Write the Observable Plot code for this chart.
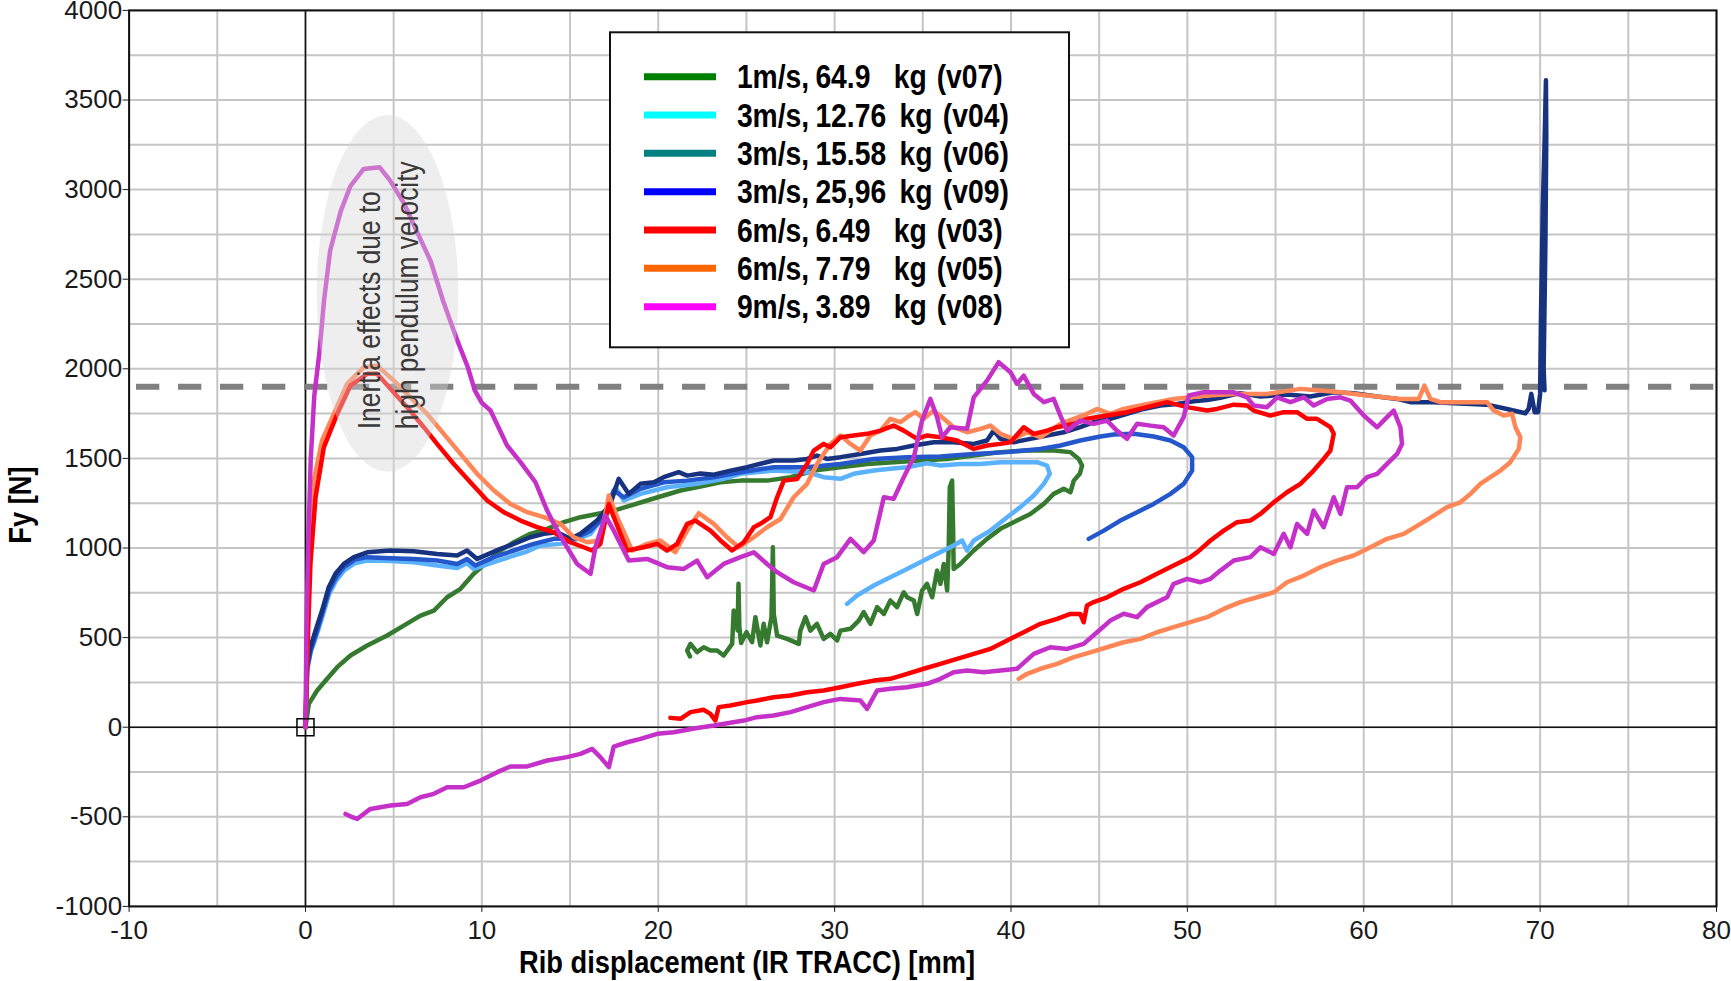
<!DOCTYPE html>
<html>
<head>
<meta charset="utf-8">
<script src="https://cdn.jsdelivr.net/npm/d3@7"></script>
<script src="https://cdn.jsdelivr.net/npm/@observablehq/plot@0.6"></script>
<style>
  html, body { margin: 0; padding: 0; background: #fff; }
  #chart { width: 1731px; height: 981px; overflow: hidden; }
</style>
</head>
<body>
<div id="chart"></div>
<script>
// Axis ticks and grid spacing
const xTicks = [-10, 0, 10, 20, 30, 40, 50, 60, 70, 80];
const yTicks = [-1000, -500, 0, 500, 1000, 1500, 2000, 2500, 3000, 3500, 4000];
const xGrid = [-10, -5, 0, 5, 10, 15, 20, 25, 30, 35, 40, 45, 50, 55, 60, 65, 70, 75, 80];
const yGrid = [-1000, -750, -500, -250, 0, 250, 500, 750, 1000, 1250, 1500, 1750, 2000, 2250, 2500, 2750, 3000, 3250, 3500, 3750, 4000];

// Force limit line [N]
const forceLimit = 1900;

// Rib displacement [mm] vs Fy [N] for each pendulum test
const v07 = [[0,0],[0.19,130],[0.66,205],[1.23,270],[1.8,335],[2.55,400],[3.5,456],[4.63,512],[5.57,567],[6.52,623],[7.28,651],[8.03,725],[8.79,772],[9.54,856],[10.3,921],[11.05,986],[11.81,1032],[12.75,1079],[13.7,1107],[14.65,1144],[15.59,1172],[16.53,1190],[17.48,1209],[18.42,1237],[19.37,1265],[20.31,1293],[21.26,1321],[22.39,1343],[23.53,1367],[24.66,1376],[26.17,1376],[27.5,1395],[28.82,1432],[30.33,1451],[31.84,1469],[33.35,1479],[34.86,1488],[36.38,1497],[37.89,1516],[39.4,1535],[40.91,1544],[42.42,1544],[43.37,1535],[43.84,1497],[44.03,1460],[43.9,1414],[43.56,1376],[43.37,1311],[42.99,1330],[42.42,1302],[41.86,1246],[41.1,1190],[40.15,1144],[39.4,1107],[38.64,1051],[37.89,986],[37.13,911],[36.75,883],[36.72,1097],[36.66,1376],[36.53,1339],[36.47,1004],[36.38,763],[36.19,911],[36.0,800],[35.81,874],[35.53,725],[35.24,800],[34.96,763],[34.68,632],[34.49,707],[34.11,725],[33.92,753],[33.54,670],[33.16,707],[32.79,632],[32.41,670],[32.03,577],[31.65,642],[31.37,595],[30.9,549],[30.33,539],[30.14,484],[29.76,521],[29.38,493],[29.0,577],[28.63,539],[28.35,614],[28.06,539],[27.97,465],[27.31,493],[26.74,511],[26.55,632],[26.5,1004],[26.42,614],[26.17,474],[25.98,577],[25.79,456],[25.51,614],[25.32,474],[25.0,530],[24.7,470],[24.6,560],[24.55,800],[24.5,540],[24.43,600],[24.28,651],[24.19,465],[23.71,400],[23.34,428],[22.96,428],[22.58,446],[22.2,419],[21.83,465],[21.64,428],[21.8,395]];

const v04 = [[0,0],[0.1,320],[0.3,420],[0.6,505],[0.95,615],[1.35,745],[1.75,820],[2.2,875],[2.8,915],[3.5,930],[4.8,928],[6.14,921],[7.46,902],[8.6,889],[9.16,915],[9.54,883],[10.68,921],[11.81,958],[12.47,977],[13.32,1014],[14.46,1023],[15.21,1042],[16.16,1079],[16.91,1181],[17.57,1339],[18.05,1265],[19.0,1302],[20.5,1339],[22.2,1358],[23.71,1386],[24.66,1414],[26.55,1432],[28.44,1423],[29.38,1395],[30.33,1386],[31.08,1414],[32.22,1432],[33.16,1442],[34.11,1451],[35.24,1473],[36.0,1460],[37.13,1469],[38.27,1469],[39.4,1479],[40.53,1479],[41.48,1479],[42.04,1460],[42.2,1414],[41.86,1358],[41.29,1293],[40.53,1228],[39.78,1172],[38.83,1097],[37.89,1042],[37.51,986],[37.23,1042],[36.75,1014],[36.0,977],[35.05,930],[34.11,883],[33.16,837],[32.22,791],[31.27,735],[30.71,688]];

const v06 = [[0,0],[0.1,330],[0.3,430],[0.6,520],[0.95,635],[1.35,765],[1.75,840],[2.2,895],[2.8,935],[3.5,949],[4.82,943],[6.14,938],[7.46,930],[8.6,911],[9.16,939],[9.63,902],[10.68,949],[11.81,986],[12.94,1023],[14.08,1051],[15.21,1051],[16.16,1097],[16.91,1172],[17.48,1321],[18.05,1283],[19.0,1330],[20.31,1367],[21.64,1376],[23.15,1395],[24.66,1423],[26.55,1451],[28.44,1451],[30.33,1469],[32.22,1497],[34.11,1507],[36.0,1511],[37.89,1525],[39.78,1535],[41.67,1553],[42.8,1572],[43.93,1600],[45.07,1622],[45.82,1633],[46.96,1637],[48.09,1622],[49.04,1600],[49.79,1562],[50.27,1507],[50.27,1432],[49.79,1358],[49.04,1302],[48.09,1246],[47.15,1200],[46.2,1153],[45.26,1097],[44.41,1051]];

const v09 = [[0,0],[0.09,353],[0.28,446],[0.57,539],[0.94,651],[1.32,781],[1.7,856],[2.17,911],[2.74,949],[3.5,976],[4.82,986],[6.14,982],[7.46,967],[8.6,958],[9.16,986],[9.73,939],[10.3,963],[11.05,995],[11.81,1023],[12.75,1060],[13.51,1079],[14.27,1088],[15.02,1051],[15.59,1079],[16.53,1153],[17.29,1246],[17.76,1386],[18.33,1302],[18.99,1358],[19.75,1367],[20.31,1395],[21.16,1423],[21.64,1404],[22.39,1416],[23.15,1409],[24.09,1432],[25.04,1451],[25.79,1470],[26.55,1488],[27.68,1488],[28.44,1497],[29.0,1516],[29.57,1497],[30.33,1507],[31.46,1525],[32.6,1544],[33.54,1553],[34.49,1572],[35.62,1590],[36.75,1590],[37.89,1581],[38.64,1600],[39.02,1655],[39.4,1609],[40.15,1590],[41.1,1609],[42.04,1628],[42.99,1646],[43.93,1674],[44.69,1702],[45.63,1721],[46.58,1749],[47.52,1776],[48.47,1795],[49.41,1804],[50.36,1819],[51.12,1826],[51.87,1838],[53.0,1864],[54.14,1845],[55.65,1856],[56.98,1845],[58.3,1869],[59.43,1864],[60.76,1845],[61.89,1832],[62.64,1814],[63.97,1814],[65.1,1808],[66.99,1800],[68.12,1776],[69.16,1752],[69.35,1776],[69.5,1860],[69.69,1758],[69.88,1758],[70.0,1860],[70.05,2300],[70.15,2900],[70.25,3250],[70.33,3610],[70.35,3300],[70.3,2700],[70.2,2000],[70.25,1880]];

const v03 = [[0,0],[0.1,400],[0.28,911],[0.57,1283],[1.04,1562],[1.8,1748],[2.55,1906],[3.5,1972],[4.06,1972],[4.82,1888],[5.76,1786],[6.71,1674],[7.46,1581],[8.41,1469],[9.35,1367],[10.3,1265],[11.24,1200],[12.19,1153],[13.13,1116],[14.08,1088],[15.02,1032],[16.25,986],[16.72,1023],[17.2,1246],[17.48,1172],[18.24,986],[19.18,1004],[19.94,1023],[20.5,986],[21.07,1023],[21.64,1135],[22.11,1153],[22.96,1097],[23.53,1042],[24.19,986],[24.85,1032],[25.42,1116],[25.79,1135],[26.36,1172],[26.74,1283],[27.12,1376],[27.87,1385],[28.44,1469],[28.82,1544],[29.38,1581],[29.76,1562],[30.33,1618],[31.08,1628],[31.84,1637],[32.6,1655],[33.35,1683],[33.92,1655],[34.68,1609],[35.24,1628],[36.0,1618],[36.94,1600],[37.89,1553],[38.64,1572],[39.4,1581],[39.97,1590],[40.72,1674],[41.29,1637],[42.04,1655],[42.61,1674],[43.56,1693],[44.31,1721],[45.45,1739],[46.58,1758],[47.71,1786],[48.85,1814],[49.98,1786],[51.12,1767],[51.68,1776],[52.63,1800],[53.39,1795],[53.76,1767],[54.71,1739],[55.46,1758],[56.22,1758],[56.79,1721],[57.35,1721],[58.11,1674],[58.3,1637],[58.11,1544],[57.73,1497],[57.16,1432],[56.41,1358],[55.65,1311],[54.9,1255],[54.14,1190],[53.57,1153],[52.82,1144],[52.06,1097],[51.31,1042],[50.6,980],[50.17,949],[49.22,902],[48.28,856],[47.34,809],[46.39,772],[45.45,725],[44.69,698],[44.31,679],[44.12,586],[43.93,632],[43.37,632],[42.61,605],[41.67,577],[40.72,530],[39.78,484],[38.83,437],[37.89,409],[36.94,381],[36.0,353],[35.05,326],[34.11,298],[33.16,270],[32.22,260],[31.27,242],[30.33,223],[29.38,205],[28.44,195],[27.5,177],[26.55,167],[25.6,149],[25.04,140],[24.09,121],[23.43,112],[23.24,37],[22.96,74],[22.58,97],[21.83,84],[21.26,47],[20.69,52]];

const v05 = [[0,0],[0.1,450],[0.19,911],[0.47,1376],[0.94,1600],[1.61,1748],[2.36,1916],[3.31,2009],[4.06,2018],[5.01,1934],[5.95,1841],[6.9,1748],[7.84,1637],[8.79,1525],[9.73,1414],[10.68,1321],[11.62,1246],[12.57,1200],[13.51,1172],[14.46,1135],[15.21,1060],[15.97,1032],[16.72,1042],[17.2,1293],[17.67,1172],[18.52,986],[19.37,1023],[20.12,1042],[20.97,977],[21.64,1097],[22.3,1194],[23.15,1135],[23.9,1060],[24.57,1004],[25.42,1060],[26.17,1116],[26.93,1162],[27.68,1283],[28.44,1358],[29.0,1469],[29.76,1581],[30.33,1628],[30.9,1581],[31.46,1544],[32.03,1628],[32.6,1655],[33.16,1721],[33.73,1702],[34.11,1730],[34.58,1758],[35.05,1721],[35.62,1767],[36.19,1721],[36.75,1674],[37.51,1646],[38.27,1665],[38.83,1683],[39.4,1637],[40.15,1609],[40.91,1646],[41.67,1618],[42.23,1655],[42.8,1693],[43.56,1721],[44.31,1749],[44.88,1776],[45.63,1749],[46.39,1776],[47.34,1795],[48.28,1814],[49.22,1832],[50.17,1841],[51.12,1851],[52.63,1860],[54.52,1860],[56.41,1888],[57.54,1879],[58.68,1869],[60.19,1851],[62.08,1832],[63.12,1832],[63.44,1906],[63.78,1832],[64.35,1814],[65.86,1814],[66.99,1814],[67.37,1767],[67.94,1739],[68.41,1749],[68.6,1674],[68.88,1618],[68.79,1553],[68.31,1479],[67.75,1432],[67.18,1395],[66.61,1358],[66.05,1302],[65.48,1255],[64.72,1228],[63.97,1181],[63.21,1135],[62.27,1079],[61.32,1051],[60.38,1004],[59.43,958],[58.49,930],[57.54,893],[56.6,846],[55.65,809],[54.9,753],[53.95,725],[53.0,698],[52.06,660],[51.12,614],[50.17,586],[49.22,558],[48.28,530],[47.34,493],[46.39,474],[45.45,446],[44.5,418],[43.56,391],[42.61,353],[41.67,326],[40.91,298],[40.44,270]];

const v08 = [[0,0],[0.05,500],[0.15,1000],[0.3,1500],[0.5,1850],[0.8,2100],[1.05,2380],[1.4,2660],[2.0,2880],[2.55,3020],[3.3,3115],[4.2,3125],[4.8,3050],[5.6,2920],[6.3,2770],[7.1,2600],[7.8,2380],[8.6,2160],[9.2,2010],[9.6,1880],[10.0,1810],[10.49,1767],[11.43,1572],[12.19,1479],[13.04,1367],[13.7,1209],[14.08,1135],[14.83,1004],[15.4,911],[16.16,856],[16.44,1004],[17.0,1181],[17.48,1097],[18.33,930],[19.37,939],[20.5,893],[21.45,883],[22.2,930],[22.77,837],[23.71,911],[24.66,949],[25.42,976],[26.17,911],[26.74,865],[27.68,809],[28.82,763],[29.38,911],[30.14,949],[30.9,1051],[31.65,977],[32.22,1042],[32.79,1283],[33.35,1274],[33.92,1395],[34.49,1507],[34.96,1711],[35.43,1832],[35.81,1730],[36.09,1618],[36.56,1674],[37.51,1665],[37.89,1841],[38.64,1934],[39.3,2037],[39.97,1981],[40.34,1916],[40.72,1962],[41.29,1860],[41.86,1814],[42.42,1832],[42.8,1739],[43.18,1655],[43.93,1711],[44.69,1693],[45.45,1711],[46.0,1655],[46.58,1609],[47.15,1693],[47.9,1683],[48.66,1674],[49.22,1628],[49.79,1730],[50.08,1851],[50.93,1869],[51.5,1869],[52.63,1869],[53.39,1841],[53.76,1795],[54.52,1786],[55.09,1841],[55.84,1814],[56.6,1841],[57.16,1795],[57.92,1832],[58.68,1841],[59.24,1823],[60.0,1739],[60.76,1674],[61.32,1730],[61.7,1767],[62.08,1674],[62.17,1581],[61.89,1525],[61.32,1469],[60.76,1414],[60.19,1395],[59.62,1339],[59.05,1339],[58.68,1190],[58.3,1283],[57.73,1116],[57.16,1209],[56.79,1079],[56.22,1134],[55.84,1004],[55.46,1079],[54.9,967],[54.14,1004],[53.57,949],[52.63,930],[51.87,874],[51.31,828],[50.74,809],[49.98,828],[49.22,800],[48.85,725],[48.28,698],[47.71,670],[47.15,614],[46.39,633],[45.63,595],[44.88,530],[44.12,465],[43.18,437],[42.23,446],[41.29,409],[40.34,326],[39.4,316],[38.45,307],[37.51,316],[36.75,307],[36.0,270],[35.24,242],[34.11,223],[33.16,214],[32.41,205],[31.84,102],[31.46,149],[30.33,158],[29.38,140],[28.44,112],[27.5,84],[26.55,65],[25.6,56],[24.85,37],[23.15,9],[22.2,-4],[20.88,-28],[19.94,-37],[19.0,-65],[18.24,-84],[17.48,-108],[17.2,-223],[16.72,-167],[16.25,-121],[15.59,-149],[14.83,-167],[13.7,-186],[12.57,-219],[11.62,-219],[10.87,-251],[9.92,-298],[8.98,-335],[8.03,-335],[7.28,-372],[6.52,-391],[5.76,-428],[4.82,-437],[3.68,-456],[2.93,-512],[2.65,-502],[2.27,-484]];

// Legend entries (swatch colours as keyed in the legend box)
const runs = [
  { id: "v07", speed: "1m/s,", mass: "64.9",  swatch: "#008000", line: "#357a2f", points: v07 },
  { id: "v04", speed: "3m/s,", mass: "12.76", swatch: "#00ffff", line: "#5ab2ff", points: v04 },
  { id: "v06", speed: "3m/s,", mass: "15.58", swatch: "#008080", line: "#2456cc", points: v06 },
  { id: "v09", speed: "3m/s,", mass: "25,96", swatch: "#0000ff", line: "#17327e", points: v09 },
  { id: "v03", speed: "6m/s,", mass: "6.49",  swatch: "#ff0000", line: "#ff0000", points: v03 },
  { id: "v05", speed: "6m/s,", mass: "7.79",  swatch: "#ff6600", line: "#ff8656", points: v05 },
  { id: "v08", speed: "9m/s,", mass: "3.89",  swatch: "#ff00ff", line: "#c531c8", points: v08 }
];
// drawing order of the curves
const drawOrder = ["v07", "v04", "v06", "v09", "v05", "v03", "v08"];

// Shaded region marking the inertia peak: centre and half-extent in data units
const inertiaZone = { cx: 4.68, cy: 2418, rx: 4.01, ry: 995 };
const inertiaText = ["Inertia effects due to", "high pendulum velocity"];

const xTitle = "Rib displacement (IR TRACC) [mm]";
const yTitle = "Fy [N]";

const fmt = d => String(d);
const curveMarks = drawOrder.map(id => {
  const r = runs.find(s => s.id === id);
  return Plot.line(r.points, {
    x: d => d[0], y: d => d[1],
    stroke: r.line, strokeWidth: 4.5, strokeLinejoin: "round", strokeLinecap: "round"
  });
});

const chart = Plot.plot({
  width: 1731,
  height: 981,
  marginLeft: 128.6,
  marginRight: 15,
  marginTop: 9.9,
  marginBottom: 75.1,
  style: { fontFamily: "'Liberation Sans', Arial, sans-serif", fontSize: "26px", color: "#1a1a1a", background: "#ffffff" },
  x: { domain: [-10, 80] },
  y: { domain: [-1000, 4000] },
  marks: [
    Plot.gridX(xGrid, { stroke: "#c6c6c6", strokeOpacity: 1, strokeWidth: 2 }),
    Plot.gridY(yGrid, { stroke: "#c6c6c6", strokeOpacity: 1, strokeWidth: 2 }),
    Plot.ruleX([0], { stroke: "#111", strokeWidth: 1.6 }),
    Plot.ruleY([0], { stroke: "#111", strokeWidth: 1.6 }),
    Plot.ruleY([forceLimit], { stroke: "#808080", strokeWidth: 6, strokeDasharray: "23.3,18.7", strokeDashoffset: -7.4 }),
    ...curveMarks,
    Plot.dot([[0, 0]], { x: d => d[0], y: d => d[1], symbol: "square", r: 9.6, stroke: "#000", strokeWidth: 1.5, fill: "none" }),
    Plot.frame({ stroke: "#111", strokeWidth: 2 }),
    Plot.axisX({ ticks: xTicks, tickFormat: fmt, tickSize: 6, tickPadding: 8, fontSize: 26, label: null }),
    Plot.axisY({ ticks: yTicks, tickFormat: fmt, tickSize: 6, tickPadding: 1, fontSize: 26, label: null })
  ]
});

document.getElementById("chart").appendChild(chart);

const svg = d3.select(chart);
const sx = chart.scale("x"), sy = chart.scale("y");

// shaded inertia zone drawn over the curves
const ex = sx.apply(inertiaZone.cx), ey = sy.apply(inertiaZone.cy);
const erx = sx.apply(inertiaZone.cx + inertiaZone.rx) - ex;
const ery = sy.apply(inertiaZone.cy - inertiaZone.ry) - ey;
svg.append("ellipse")
  .attr("cx", ex).attr("cy", ey).attr("rx", erx).attr("ry", ery)
  .attr("fill", "#d6d6d6").attr("fill-opacity", 0.42);

const noteBase = sy.apply(1660);
inertiaText.forEach((t, i) => {
  svg.append("text")
    .attr("transform", `translate(${ex - 8 + i * 38},${noteBase}) rotate(-90) scale(0.85,1)`)
    .attr("text-anchor", "start")
    .attr("font-family", "'Liberation Sans', Arial, sans-serif")
    .attr("font-size", 31)
    .attr("fill", "#3a3a3a")
    .text(t);
});

// axis titles (bold, condensed)
const condensed = "'Liberation Sans', Arial, sans-serif";
svg.append("text")
  .attr("transform", `translate(747,973) scale(0.88,1)`)
  .attr("text-anchor", "middle")
  .attr("font-family", condensed).attr("font-weight", "bold").attr("font-size", 31)
  .attr("fill", "#000").text(xTitle);
svg.append("text")
  .attr("transform", `translate(30.5,505) rotate(-90) scale(0.88,1)`)
  .attr("text-anchor", "middle")
  .attr("font-family", condensed).attr("font-weight", "bold").attr("font-size", 31)
  .attr("fill", "#000").text(yTitle);

// legend box
const lg = svg.append("g");
lg.append("rect").attr("x", 610).attr("y", 32.3).attr("width", 459).attr("height", 315)
  .attr("fill", "#fff").attr("stroke", "#111").attr("stroke-width", 2);
runs.forEach((r, i) => {
  const base = 88.3 + i * 38.33;
  lg.append("line").attr("x1", 644).attr("x2", 716)
    .attr("y1", base - 11.6).attr("y2", base - 11.6)
    .attr("stroke", r.swatch).attr("stroke-width", 7);
  const wide = r.mass.length > 4;
  const parts = [
    [736.9, r.speed],
    [815.4, r.mass],
    [wide ? 899.6 : 893.8, "kg"],
    [wide ? 942.8 : 936.7, `(${r.id})`]
  ];
  parts.forEach(([px, t]) => {
    lg.append("text")
      .attr("transform", `translate(${px},${base}) scale(0.87,1)`)
      .attr("text-anchor", "start")
      .attr("font-family", condensed).attr("font-weight", "bold").attr("font-size", 32.5)
      .attr("fill", "#000").text(t);
  });
});
</script>
</body>
</html>
